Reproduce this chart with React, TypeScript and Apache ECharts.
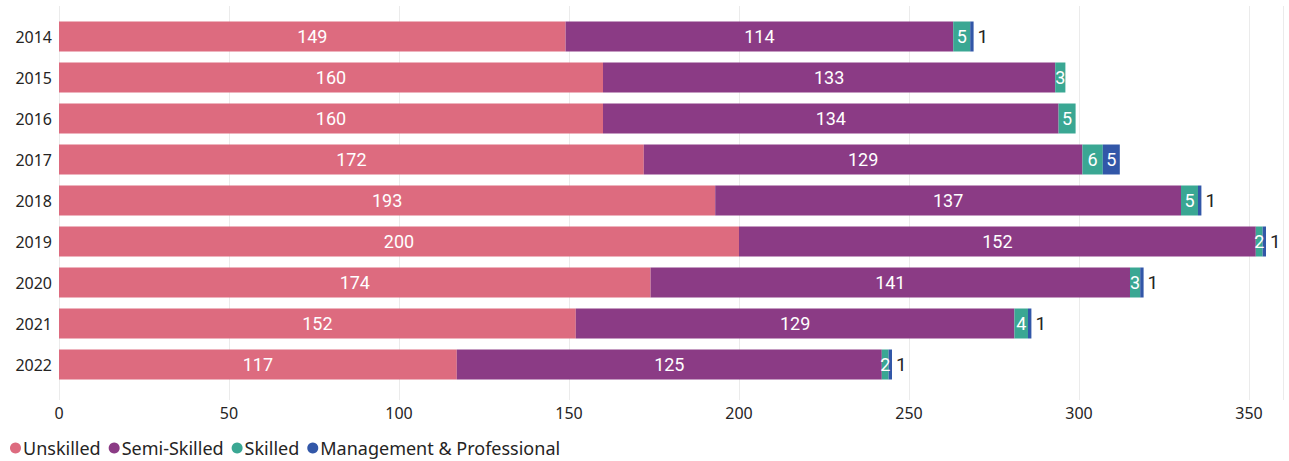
import React, { useEffect, useRef } from "react";
import * as echarts from "echarts";

const years = ["2014", "2015", "2016", "2017", "2018", "2019", "2020", "2021", "2022"];
const unskilled = [149, 160, 160, 172, 193, 200, 174, 152, 117];
const semiSkilled = [114, 133, 134, 129, 137, 152, 141, 129, 125];
const skilled = [5, 3, 5, 6, 5, 2, 3, 4, 2];
const management: (number | null)[] = [1, null, null, 5, 1, 1, 1, 1, 1];
const xTicks = [0, 50, 100, 150, 200, 250, 300, 350];

const COLORS = ["#DD6B7F", "#8B3B85", "#3AA793", "#3257A8"];
const FONT = "'Noto Sans', 'Open Sans', sans-serif";
const LABEL_FONT = "Roboto, 'Noto Sans', sans-serif";

export default function App() {
  const ref = useRef<HTMLDivElement>(null);
  useEffect(() => {
    if (!ref.current) return;
    const chart = echarts.init(ref.current, null, { renderer: "svg" });
    const insideLabel = {
      show: true,
      position: "inside",
      color: "#ffffff",
      fontSize: 18,
      fontWeight: "normal",
      fontFamily: LABEL_FONT,
    };
    const mgmtData = management.map((v) => {
      if (v === null) return null;
      if (v >= 3) return { value: v, label: { ...insideLabel } };
      return {
        value: v,
        label: {
          show: true,
          position: "right",
          distance: 4,
          color: "#252423",
          fontSize: 19,
          fontFamily: LABEL_FONT,
        },
      };
    });
    const common = { type: "bar", stack: "total", barWidth: 30, xAxisIndex: 0, yAxisIndex: 0 };
    chart.setOption({
      animation: false,
      color: COLORS,
      grid: [
        { left: 59, right: 6, top: 16, height: 369, containLabel: false },
        { left: 59, right: 6, top: 6, height: 394, containLabel: false },
      ],
      xAxis: [
        {
          type: "value",
          gridIndex: 0,
          min: 0,
          max: 360,
          interval: 50,
          axisLine: { show: false },
          axisTick: { show: false },
          splitLine: { show: false },
          axisLabel: {
            color: "#252423",
            fontSize: 16,
            fontFamily: FONT,
            margin: 20,
            formatter: (v: number) => (xTicks.includes(v) ? String(v) : ""),
          },
        },
        {
          type: "value",
          gridIndex: 1,
          min: 0,
          max: 360,
          interval: 50,
          axisLine: { show: false },
          axisTick: { show: false },
          axisLabel: { show: false },
          splitLine: { show: true, lineStyle: { color: "#EBEBEB", width: 1 } },
        },
      ],
      yAxis: [
        {
          type: "category",
          gridIndex: 0,
          data: years,
          inverse: true,
          axisLine: { show: false },
          axisTick: { show: false },
          axisLabel: { color: "#252423", fontSize: 16, fontFamily: FONT, margin: 7 },
        },
        {
          type: "category",
          gridIndex: 1,
          data: years,
          show: false,
        },
      ],
      legend: {
        left: 5,
        top: 434,
        padding: 5,
        icon: "circle",
        itemWidth: 11,
        itemHeight: 11,
        itemGap: 8,
        textStyle: { color: "#252423", fontSize: 18, fontFamily: FONT, padding: [0, 0, 0, -3] },
        data: ["Unskilled", "Semi-Skilled", "Skilled", "Management & Professional"],
      },
      series: [
        { ...common, name: "Unskilled", data: unskilled, label: insideLabel },
        { ...common, name: "Semi-Skilled", data: semiSkilled, label: insideLabel },
        { ...common, name: "Skilled", data: skilled, label: insideLabel },
        { ...common, name: "Management & Professional", data: mgmtData },
      ],
    });
    return () => chart.dispose();
  }, []);
  return <div ref={ref} style={{ width: 1289, height: 461, position: "absolute", left: 0, top: 0 }} />;
}
